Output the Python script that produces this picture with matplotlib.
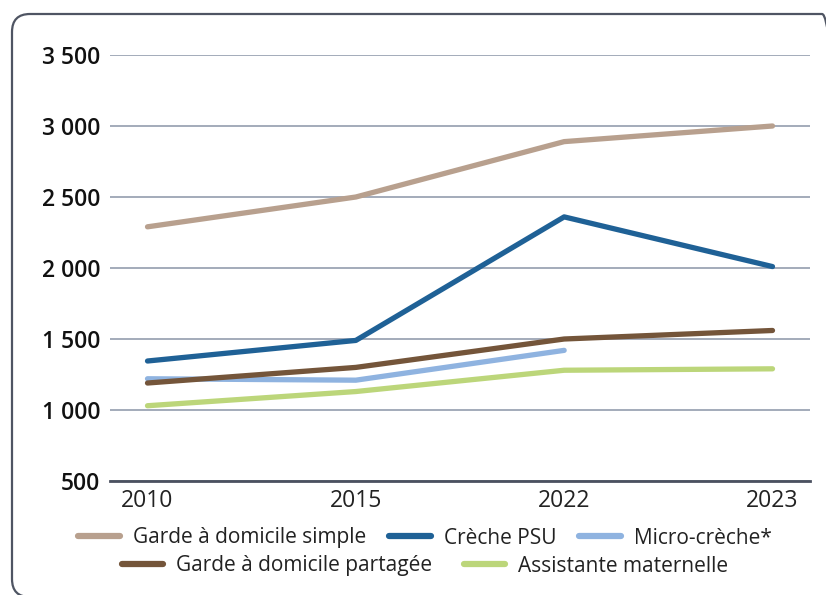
import numpy as np
import matplotlib
matplotlib.use('Agg')
from matplotlib import pyplot as plt
from matplotlib.patches import FancyBboxPatch
from matplotlib.transforms import IdentityTransform
from matplotlib.ticker import FuncFormatter

##

years = ['2010', '2015', '2022', '2023']
garde_simple = [2290, 2500, 2890, 3000]
creche_psu = [1345, 1490, 2360, 2010]
micro_creche = [1220, 1210, 1420]
garde_partagee = [1190, 1300, 1500, 1560]
assistante = [1030, 1130, 1280, 1290]

labels = ['Garde à domicile simple', 'Crèche PSU', 'Micro-crèche*',
          'Garde à domicile partagée', 'Assistante maternelle']
colors = ['#b8a08e', '#1f6196', '#8fb3e0', '#74553a', '#bcd67a']

yticks = [500, 1000, 1500, 2000, 2500, 3000, 3500]

##

plt.rcParams['font.family'] = ['Open Sans', 'DejaVu Sans']

W, H = 826, 595
fig = plt.figure(figsize=(W/100, H/100), dpi=100)

# rounded frame, in pixels (runs off the right and bottom edges)
frame = FancyBboxPatch((12, H - 597), 840 - 12, 597 - 14,
                       boxstyle='round,pad=0,rounding_size=18',
                       transform=IdentityTransform(), facecolor='none',
                       edgecolor='#4f5563', lw=1.6, clip_on=False)
fig.patches.append(frame)

ax = fig.add_axes([110/W, 1 - 481/H, 700/W, (481-55)/H])

x = np.arange(len(years))
series = [garde_simple, creche_psu, micro_creche, garde_partagee, assistante]
lines = []
for vals, lab, col in zip(series, labels, colors):
    l, = ax.plot(x[:len(vals)], vals, color=col, lw=3.8, label=lab,
                 solid_capstyle='round', solid_joinstyle='round')
    lines.append(l)

ax.set_xlim(-0.18, 3.18)
ax.set_ylim(500, 3500)
ax.set_yticks(yticks)
ax.yaxis.set_major_formatter(FuncFormatter(lambda v, p: f'{int(v):,}'.replace(',', ' ')))
ax.set_xticks(x)
ax.set_xticklabels(years)

ax.grid(axis='y', color='#a3abba', lw=1.4)
ax.set_axisbelow(True)
for s in ['top', 'right', 'left']:
    ax.spines[s].set_visible(False)
ax.spines['bottom'].set_color('#4b5160')
ax.spines['bottom'].set_linewidth(2)
ax.spines['bottom'].set_zorder(1)

ax.tick_params(axis='y', length=0, pad=7, labelsize=16.5, labelcolor='#111111')
ax.tick_params(axis='x', length=0, pad=6, labelsize=16.5, labelcolor='#222222')
for t in ax.get_yticklabels():
    t.set_fontweight('semibold')

kw = dict(loc='center', frameon=False, fontsize=15, handlelength=2.0,
          handletextpad=0.62, labelcolor='#222222', borderpad=0)
leg1 = fig.legend(lines[:3], labels[:3], ncol=3, columnspacing=1.1,
                  bbox_to_anchor=(425/W, 1 - 538/H), **kw)
leg2 = fig.legend(lines[3:], labels[3:], ncol=2, columnspacing=1.5,
                  bbox_to_anchor=(425/W, 1 - 566/H), **kw)
for leg in (leg1, leg2):
    for h in leg.get_lines():
        h.set_linewidth(4.5)

fig.savefig('out.png', dpi=100)
